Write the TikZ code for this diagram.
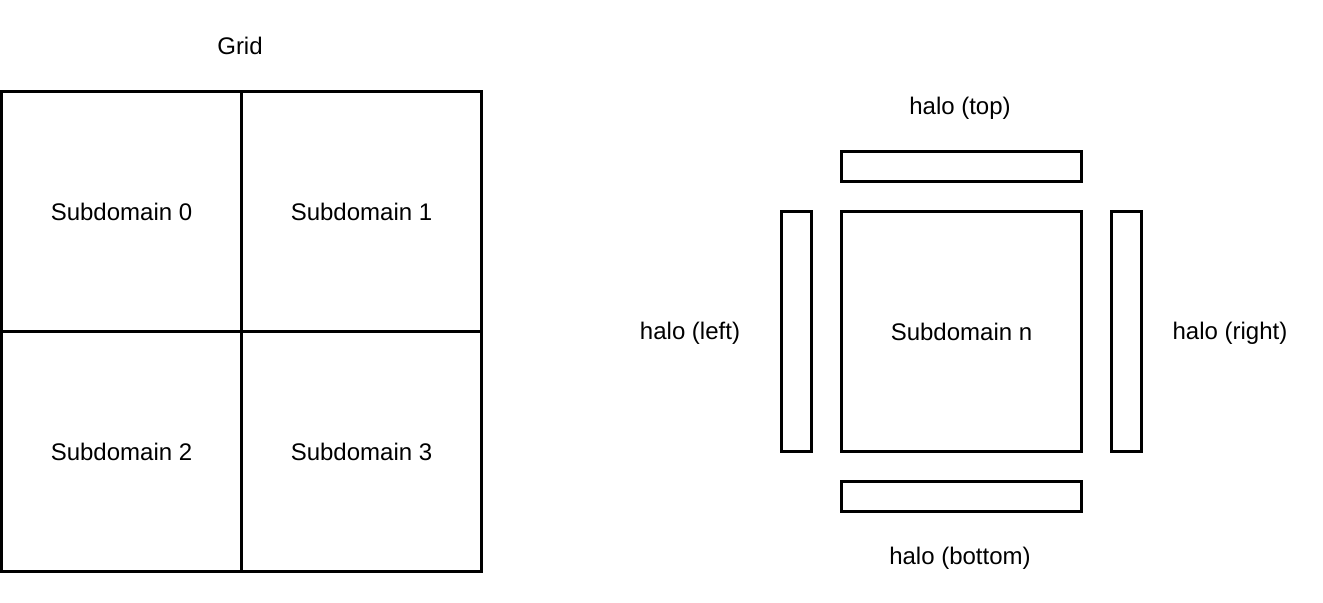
\documentclass[tikz,border=0pt]{standalone}
\usepackage{fontspec}
\setmainfont{Liberation Sans}
\usepackage{tikz}

\tikzset{
	cell/.style = {draw, line width = 1.6pt, inner sep = 0pt, outer sep = 0pt,
		minimum width = 120pt, minimum height = 120pt, font = \fontsize{12pt}{14pt}\selectfont},
	halobar/.style = {draw, line width = 1.6pt, inner sep = 0pt, outer sep = 0pt},
	lbl/.style = {inner sep = 0pt, font = \fontsize{12pt}{14pt}\selectfont}
}

\begin{document}
\begin{tikzpicture}[x = 0.5pt, y = -0.5pt]
	\useasboundingbox (0,0) rectangle (1323,603);

	% grid of subdomains
	\node [lbl] (grid) at (240,46) {Grid};
	\node [cell] (sub0) at (121.5,211.5) {Subdomain 0};
	\node [cell] (sub1) at (361.5,211.5) {Subdomain 1};
	\node [cell] (sub2) at (121.5,451.5) {Subdomain 2};
	\node [cell] (sub3) at (361.5,451.5) {Subdomain 3};

	% one subdomain with its halos
	\node [cell] (subn) at (961.5,331.5) {Subdomain n};
	\node [halobar, minimum width = 120pt, minimum height = 15pt] (halotop) at (961.5,166.5) {};
	\node [halobar, minimum width = 120pt, minimum height = 15pt] (halobottom) at (961.5,496.5) {};
	\node [halobar, minimum width = 15pt, minimum height = 120pt] (haloleft) at (796.5,331.5) {};
	\node [halobar, minimum width = 15pt, minimum height = 120pt] (haloright) at (1126.5,331.5) {};

	\node [lbl] at (960,108) {halo (top)};
	\node [lbl] at (960,558) {halo (bottom)};
	\node [lbl] at (690,333) {halo (left)};
	\node [lbl] at (1230,333) {halo (right)};
\end{tikzpicture}
\end{document}
